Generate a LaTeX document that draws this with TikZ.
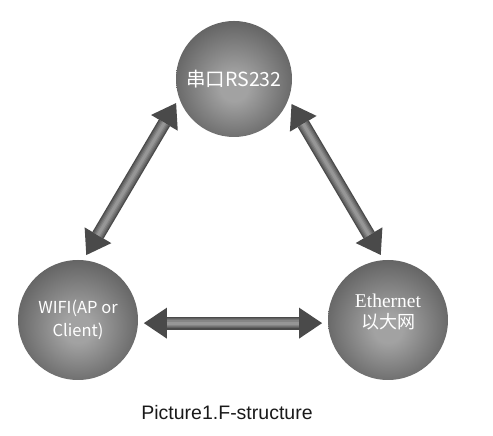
\documentclass[tikz,border=0pt]{standalone}
\usepackage{fontspec}
\setmainfont{Liberation Sans}
\newfontfamily\cjk{Noto Sans CJK SC}
\newfontfamily\serifen{Liberation Serif}
\usetikzlibrary{arrows.meta}
\definecolor{ballLight}{HTML}{A2A2A2}
\definecolor{ballMid}{HTML}{676767}
\definecolor{ballDark}{HTML}{404040}
\definecolor{linkDark}{HTML}{4A4A4A}
\pgfdeclareradialshading{ballshade}{\pgfpoint{0bp}{-4bp}}{color(0bp)=(ballLight); color(6bp)=(ballLight); color(26bp)=(ballMid); color(42bp)=(ballDark); color(50bp)=(ballDark!75!black)}
\tikzstyle{ball} = [circle, minimum size=120pt, inner sep=0pt, outer sep=0pt, shading=ballshade]
\tikzstyle{ballText} = [text=white, align=center, font=\cjk\fontsize{18}{23}\selectfont]
\tikzstyle{shaft} = [draw=#1, -, shorten <=29pt, shorten >=29pt]
\tikzstyle{link} = [line width=13pt, draw=linkDark,
{Triangle[length=23pt,width=31pt,line width=0pt]}-{Triangle[length=23pt,width=31pt,line width=0pt]},
shorten <=6pt, shorten >=6pt,
postaction={shaft=black!62, line width=10.5pt},
postaction={shaft=black!55, line width=8pt},
postaction={shaft=black!48, line width=5.5pt},
postaction={shaft=black!41, line width=3pt}]

\begin{document}
\begin{tikzpicture}[x=1pt,y=1pt]
\useasboundingbox (0,0) rectangle (493,436);

\node[ball, minimum size=116pt, label={[ballText, font=\cjk\fontsize{19.5}{23}\selectfont]center:{串口RS232}}] (rs) at (234,357) {};
\node[ball, label={[ballText, font=\cjk\fontsize{16.5}{23}\selectfont]center:{WIFI(AP or\\Client)}}] (wifi) at (78,116) {};
\node[ball, label={[ballText, yshift=8pt, font=\cjk\fontsize{18}{21}\selectfont]center:{{\serifen\fontsize{19.5}{21}\selectfont Ethernet}\\以大网}}] (eth) at (388,116) {};

\node[font=\fontsize{19.5}{22}\selectfont, text=black!90] (caption) at (227,23) {Picture1.F-structure};

\path
(wifi.85) edge [link] (rs.199)
(eth.94) edge [link] (rs.340)
(wifi.357) edge [link] (eth.183);

\end{tikzpicture}
\end{document}
